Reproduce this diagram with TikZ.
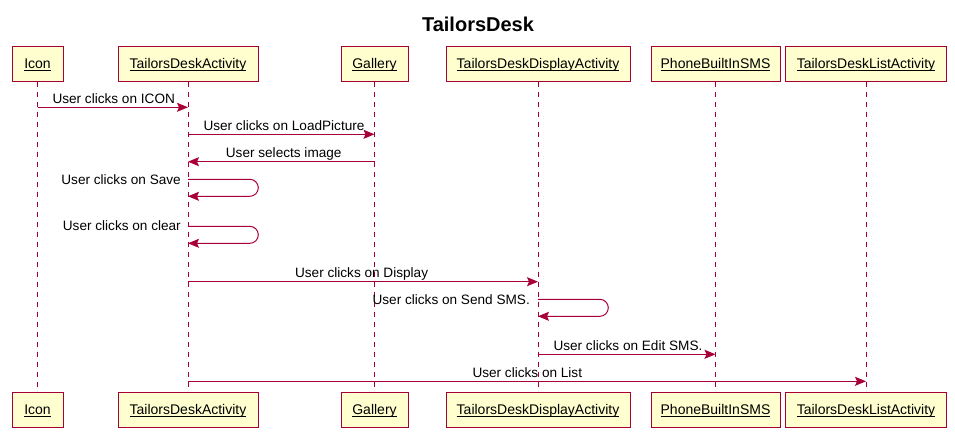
\documentclass[tikz,border=0pt]{standalone}
\usepackage{fontspec}
\setmainfont{Liberation Sans}
\usetikzlibrary{arrows.meta}
\definecolor{pred}{HTML}{A80036}
\definecolor{pfill}{HTML}{FEFECE}
\newcommand\seqpartlabel[1]{\underline{\raisebox{0pt}[\height][0pt]{#1}}}
\begin{document}
\begin{tikzpicture}[x=1pt,y=-1pt,
 part/.style={draw=pred, fill=pfill, line width=1pt, minimum height=35pt, inner sep=0pt, text depth=0pt, font=\fontsize{14}{16}\selectfont},
 life/.style={draw=pred, line width=0.9pt, dash pattern=on 5pt off 5pt},
 msg/.style={draw=pred, line width=1pt, -{Stealth[length=11pt,width=9pt,inset=2pt]}},
 lbl/.style={inner sep=0pt, font=\fontsize{13.6}{15}\selectfont}]
\useasboundingbox (0,0) rectangle (955,434);
\node[inner sep=0pt, anchor=base, font=\bfseries\fontsize{20}{22}\selectfont] (title) at (478,31.4) {TailorsDesk};
% participants top
\node[part, minimum width=51pt]  (icT)  at (37.5,63.5)  {\seqpartlabel{Icon}};
\node[part, minimum width=140pt] (tdaT) at (188,63.5)   {\seqpartlabel{TailorsDeskActivity}};
\node[part, minimum width=67pt]  (galT) at (374.5,63.5) {\seqpartlabel{Gallery}};
\node[part, minimum width=184pt] (dspT) at (538,63.5)   {\seqpartlabel{TailorsDeskDisplayActivity}};
\node[part, minimum width=129pt] (smsT) at (715.5,63.5) {\seqpartlabel{PhoneBuiltInSMS}};
\node[part, minimum width=161pt] (lstT) at (866,63.5)   {\seqpartlabel{TailorsDeskListActivity}};
% participants bottom
\node[part, minimum width=51pt]  (icB)  at (37.5,409.5)  {\seqpartlabel{Icon}};
\node[part, minimum width=140pt] (tdaB) at (188,409.5)   {\seqpartlabel{TailorsDeskActivity}};
\node[part, minimum width=67pt]  (galB) at (374.5,409.5) {\seqpartlabel{Gallery}};
\node[part, minimum width=184pt] (dspB) at (538,409.5)   {\seqpartlabel{TailorsDeskDisplayActivity}};
\node[part, minimum width=129pt] (smsB) at (715.5,409.5) {\seqpartlabel{PhoneBuiltInSMS}};
\node[part, minimum width=161pt] (lstB) at (866,409.5)   {\seqpartlabel{TailorsDeskListActivity}};
% lifelines
\draw[life] (icT.south) -- (icB.north);
\draw[life] (tdaT.south) -- (tdaB.north);
\draw[life] (galT.south) -- (galB.north);
\draw[life] (dspT.south) -- (dspB.north);
\draw[life] (smsT.south) -- (smsB.north);
\draw[life] (lstT.south) -- (lstB.north);
% y levels
\coordinate (y1) at (0,107.3);
\coordinate (y2) at (0,134.3);
\coordinate (y3) at (0,161.7);
\coordinate (y4a) at (0,179.3);
\coordinate (y4b) at (0,196.3);
\coordinate (y5a) at (0,226.3);
\coordinate (y5b) at (0,243.3);
\coordinate (y6) at (0,281.7);
\coordinate (y7a) at (0,299.3);
\coordinate (y7b) at (0,316.3);
\coordinate (y8) at (0,354.3);
\coordinate (y9) at (0,381.3);
% messages
\draw[msg] (icT |- y1) -- (tdaT |- y1);
\node[lbl, anchor=base west] (m1) at (52.3,103.3) {User clicks on ICON};
\draw[msg] (tdaT |- y2) -- (galT |- y2);
\node[lbl, anchor=base west] (m2) at (203.3,130.3) {User clicks on LoadPicture};
\draw[msg] (galT |- y3) -- (tdaT |- y3);
\node[lbl, anchor=base west] (m3) at (225.7,157.5) {User selects image};
\draw[msg] (tdaT |- y4a) -- ++(61.8,0) arc[start angle=-90,end angle=90,radius=8.5] -- (tdaT |- y4b);
\node[lbl, anchor=base east] (m4) at (181,184) {User clicks on Save};
\draw[msg] (tdaT |- y5a) -- ++(61.8,0) arc[start angle=-90,end angle=90,radius=8.5] -- (tdaT |- y5b);
\node[lbl, anchor=base east] (m5) at (181,230.5) {User clicks on clear};
\draw[msg] (tdaT |- y6) -- (dspT |- y6);
\node[lbl, anchor=base east] (m6) at (428.3,277.7) {User clicks on Display};
\draw[msg] (dspT |- y7a) -- ++(61.8,0) arc[start angle=-90,end angle=90,radius=8.5] -- (dspT |- y7b);
\node[lbl, anchor=base east] (m7) at (530,304.3) {User clicks on Send SMS.};
\draw[msg] (dspT |- y8) -- (smsT |- y8);
\node[lbl, anchor=base west] (m8) at (553.3,350.3) {User clicks on Edit SMS.};
\draw[msg] (tdaT |- y9) -- (lstT |- y9);
\node[lbl, anchor=base west] (m9) at (472.3,377.3) {User clicks on List};
\end{tikzpicture}
\end{document}
